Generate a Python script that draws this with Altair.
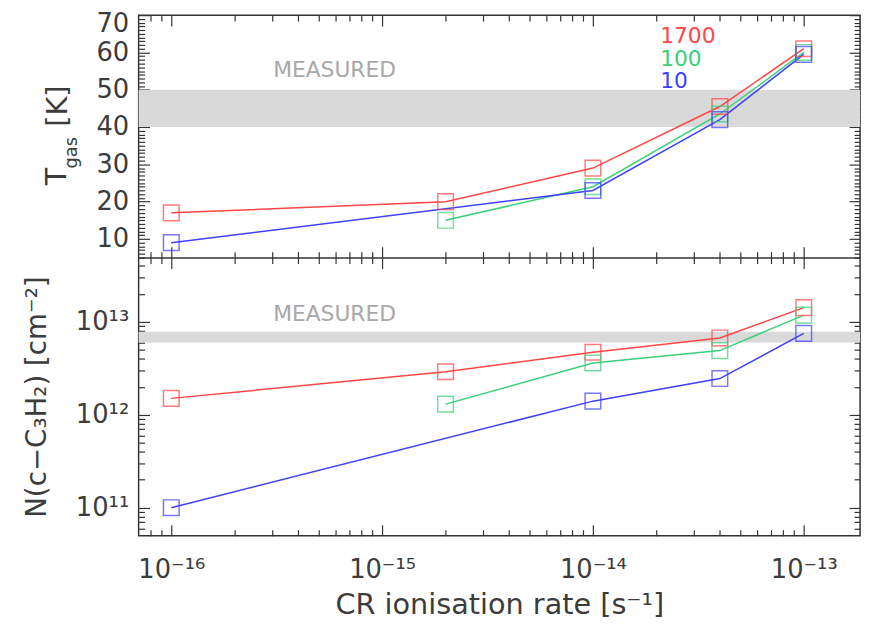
import math
import altair as alt
import pandas as pd

# ---------------- data ----------------
rates = [1e-16, 2e-15, 1e-14, 4e-14, 1e-13]
series_names = ["1700", "100", "10"]
series_colors = ["#ff4646", "#3ccf7a", "#4040ff"]

tgas_1700 = [17, 20, 29, 45.5, 61]
tgas_100 = [None, 15, 24, 43.5, 60]
tgas_10 = [9, None, 23, 42, 59.5]

ncol_1700 = [1.5e12, 2.9e12, 4.7e12, 6.7e12, 1.42e13]
ncol_100 = [None, 1.3e12, 3.6e12, 4.9e12, 1.18e13]
ncol_10 = [1.0e11, None, 1.4e12, 2.45e12, 7.5e12]

tgas_band = [40, 50]
ncol_band = [6.0e12, 7.8e12]
band_label = ["MEASURED"]

x_domain = [7e-17, 1.85e-13]
tgas_domain = [5, 70]
ncol_domain = [5e10, 4.9e13]

x_major = [1e-16, 1e-15, 1e-14, 1e-13]
x_major_labels = ["10⁻¹⁶", "10⁻¹⁵", "10⁻¹⁴", "10⁻¹³"]
x_minor = [8e-17, 9e-17] + [k * 10.0 ** e for e in (-16, -15, -14) for k in range(2, 10)]

tgas_major = [10, 20, 30, 40, 50, 60, 70]
tgas_minor = [v for v in range(5, 71) if v % 10 != 0]

ncol_major = [1e11, 1e12, 1e13]
ncol_major_labels = ["10¹¹", "10¹²", "10¹³"]
ncol_minor = [6e10, 7e10, 8e10, 9e10] + [k * 10.0 ** e for e in (11, 12) for k in range(2, 10)] + [2e13, 3e13, 4e13]

x_title = "CR ionisation rate [s⁻¹]"
ncol_title = ["N(c−C₃H₂)  [cm⁻²]"]
tgas_title_parts = ["T", "gas", "[K]"]

# ---------------- style ----------------
W = 729
H_TOP = 245
H_BOT = 281
H = H_TOP + H_BOT
FONT = "DejaVu Sans"
INK = "#3c3c3c"
FRAME = "#333333"
MAJ = 11
MIN = 6


def lines_df(values_by_series):
    rows = []
    for name, vals in zip(series_names, values_by_series):
        for r, v in zip(rates, vals):
            if v is not None:
                rows.append({"rate": r, "val": v, "series": name})
    return pd.DataFrame(rows)


def label_expr(values, labels):
    expr = "''"
    for v, l in reversed(list(zip(values, labels))):
        expr = f"(abs(log(datum.value)/log(10) - ({math.log10(v):.4f})) < 0.01 ? '{l}' : {expr})"
    return expr


color_scale = alt.Scale(domain=series_names, range=series_colors)
xs = alt.Scale(type="log", domain=x_domain, nice=False, zero=False)
ys_top = alt.Scale(domain=tgas_domain, range=[H_TOP, 0], nice=False, zero=False)
ys_bot = alt.Scale(type="log", domain=ncol_domain, range=[H, H_TOP], nice=False, zero=False)


def tick_layer(values, channel, scale, orient, size, offset, domain=False):
    df = pd.DataFrame({"v": values})
    ax = alt.Axis(orient=orient, values=values, tickSize=size, offset=offset, labels=False,
                  domain=domain, domainColor=FRAME, domainWidth=1.5, grid=False, title=None,
                  tickColor=FRAME, tickWidth=1.2)
    if channel == "x":
        enc = dict(x=alt.X("v:Q", scale=scale, axis=ax))
    else:
        enc = dict(y=alt.Y("v:Q", scale=scale, axis=ax))
    return alt.Chart(df).mark_point(opacity=0).encode(**enc)


def text_layer(txt, x, y, size, color, angle=0, align="center"):
    kw = dict(font=FONT, fontSize=size, color=color, align=align, baseline="middle")
    if angle:
        kw["angle"] = angle
    return alt.Chart(pd.DataFrame({"t": [txt]})).mark_text(**kw).encode(
        text="t:N", x=alt.value(x), y=alt.value(y))


def data_layers(df, yscale, left_axis, bottom_axis):
    line = alt.Chart(df).mark_line(strokeWidth=1.5).encode(
        x=alt.X("rate:Q", scale=xs, axis=bottom_axis),
        y=alt.Y("val:Q", scale=yscale, axis=left_axis),
        color=alt.Color("series:N", scale=color_scale, legend=None),
    )
    pts = alt.Chart(df).mark_point(shape="square", size=250, filled=False, strokeWidth=1.5).encode(
        x=alt.X("rate:Q", scale=xs, axis=None),
        y=alt.Y("val:Q", scale=yscale, axis=None),
        color=alt.Color("series:N", scale=color_scale, legend=None),
    )
    return [line, pts]


def band_layer(band, yscale):
    band_df = pd.DataFrame({"lo": [band[0]], "hi": [band[1]]})
    return alt.Chart(band_df).mark_rect(color="#d9d9d9").encode(
        y=alt.Y("lo:Q", scale=yscale, axis=None), y2="hi:Q",
        x=alt.value(0), x2=alt.value(W))


top_left_axis = alt.Axis(orient="left", values=tgas_major, tickSize=MAJ, offset=-MAJ,
                         domain=False, grid=False, title=None, labelFontSize=26,
                         labelFont=FONT, labelColor=INK, labelPadding=10, tickColor=FRAME,
                         tickWidth=1.2, labelFlush=True, labelFlushOffset=4,
                         labelOverlap=False)
bot_left_axis = alt.Axis(orient="left", values=ncol_major,
                         labelExpr=label_expr(ncol_major, ncol_major_labels), tickSize=MAJ,
                         offset=-MAJ, domain=False, grid=False, title=None, labelFontSize=26,
                         labelFont=FONT, labelColor=INK, labelPadding=10, tickColor=FRAME,
                         tickWidth=1.2, labelFlush=False, labelOverlap=False)
bottom_axis = alt.Axis(orient="bottom", values=x_major,
                       labelExpr=label_expr(x_major, x_major_labels), tickSize=MAJ,
                       offset=-MAJ, domain=False, grid=False, title=x_title,
                       titleFont=FONT, titleFontSize=29, titleFontWeight="normal",
                       titleColor=INK, titlePadding=9, labelFontSize=26,
                       labelFont=FONT, labelColor=INK, labelPadding=21,
                       tickColor=FRAME, tickWidth=1.2, labelFlush=False, labelOverlap=False)

top_df = lines_df([tgas_1700, tgas_100, tgas_10])
bot_df = lines_df([ncol_1700, ncol_100, ncol_10])

layers = [
    band_layer(tgas_band, ys_top),
    band_layer(ncol_band, ys_bot),
    text_layer(band_label[0], 198, 56, 22, "#a8a8a8"),
    text_layer(band_label[0], 198, H_TOP + 57, 22, "#a8a8a8"),
]
layers += data_layers(top_df, ys_top, top_left_axis, None)
layers += data_layers(bot_df, ys_bot, bot_left_axis, bottom_axis)

# legend texts
for i, (n, c) in enumerate(zip(series_names, series_colors)):
    layers.append(text_layer(n, 527, 21 + 23 * i, 22, c, align="left"))

# axis titles
layers.append(text_layer(tgas_title_parts[0], -82, 163, 29, INK, angle=270))
layers.append(text_layer(tgas_title_parts[1], -67, 139, 18, INK, angle=270))
layers.append(text_layer(tgas_title_parts[2], -81, 92, 29, INK, angle=270))
layers.append(text_layer(ncol_title[0], -102, H_TOP + 141, 28, INK, angle=270))

# inward tick marks on every side of both panels
layers += [
    tick_layer(tgas_minor, "y", ys_top, "left", MIN, -MIN),
    tick_layer(tgas_major, "y", ys_top, "right", MAJ, -MAJ),
    tick_layer(tgas_minor, "y", ys_top, "right", MIN, -MIN),
    tick_layer(ncol_minor, "y", ys_bot, "left", MIN, -MIN),
    tick_layer(ncol_major, "y", ys_bot, "right", MAJ, -MAJ),
    tick_layer(ncol_minor, "y", ys_bot, "right", MIN, -MIN),
    tick_layer(x_minor, "x", xs, "bottom", MIN, -MIN),
    tick_layer(x_major, "x", xs, "top", MAJ, -MAJ),
    tick_layer(x_minor, "x", xs, "top", MIN, -MIN),
    tick_layer(x_major, "x", xs, "top", MAJ, -H_TOP),
    tick_layer(x_minor, "x", xs, "top", MIN, -H_TOP),
    tick_layer(x_major, "x", xs, "bottom", MAJ, -H_BOT, domain=True),
    tick_layer(x_minor, "x", xs, "bottom", MIN, -H_BOT),
]

chart = alt.layer(*layers).resolve_scale(x="independent", y="independent").properties(
    width=W, height=H, padding={"left": 16, "top": 0, "right": 5, "bottom": 0}
).configure_view(stroke=FRAME, strokeWidth=1.5)

chart.save("out.html", embed_options={"renderer": "svg", "actions": False})
